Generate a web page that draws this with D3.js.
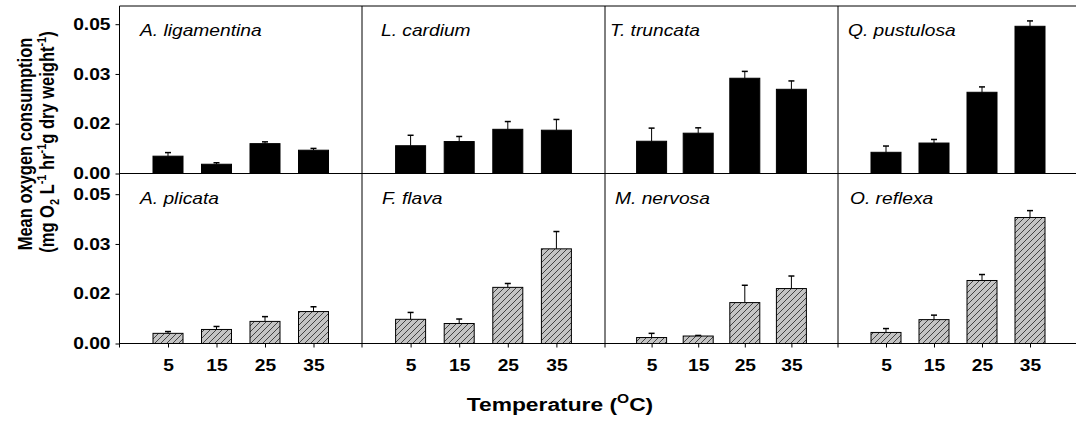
<!DOCTYPE html>
<html>
<head>
<meta charset="utf-8">
<script src="https://cdn.jsdelivr.net/npm/d3@7"></script>
<style>
  body { margin: 0; background: #fff; }
  text { font-family: Arial, "Liberation Sans", sans-serif; fill: #000; }
</style>
</head>
<body>
<div id="chart"></div>
<script>

// data
var temps = ["5", "15", "25", "35"];
var speciesTop = ["A. ligamentina", "L. cardium", "T. truncata", "Q. pustulosa"];
var speciesBottom = ["A. plicata", "F. flava", "M. nervosa", "O. reflexa"];

var meansTop = [
  [0.0058, 0.0031, 0.0100, 0.0078],
  [0.0093, 0.0107, 0.0148, 0.0145],
  [0.0108, 0.0135, 0.0319, 0.0282],
  [0.0071, 0.0102, 0.0272, 0.0493]
];
var errsTop = [
  [0.0012, 0.0005, 0.0006, 0.0006],
  [0.0035, 0.0017, 0.0026, 0.0036],
  [0.0044, 0.0018, 0.0023, 0.0028],
  [0.0021, 0.0012, 0.0018, 0.0018]
];
var meansBottom = [
  [0.0034, 0.0047, 0.0074, 0.0107],
  [0.0081, 0.0067, 0.0188, 0.0317],
  [0.0020, 0.0025, 0.0137, 0.0184],
  [0.0037, 0.0080, 0.0211, 0.0422]
];
var errsBottom = [
  [0.0006, 0.0010, 0.0016, 0.0016],
  [0.0023, 0.0015, 0.0013, 0.0058],
  [0.0014, 0.0002, 0.0058, 0.0042],
  [0.0013, 0.0015, 0.0020, 0.0023]
];
var yTicks = [0, 0.05 / 3, 0.1 / 3, 0.05];

// layout
var width = 1076, height = 424;
var colEdges = [119.5, 362, 605, 838, 1078];
var rows = [
  { top: 6, zero: 173.5, names: speciesTop, means: meansTop, errs: errsTop, fill: "#000", labelDx: [20.5, 19, 5, 10] },
  { top: 173.5, zero: 343.5, names: speciesBottom, means: meansBottom, errs: errsBottom, fill: "url(#hatch)", labelDx: [20.5, 20, 10, 12] }
];
var stretch = "scale(1.2,1)";

var svg = d3.select("#chart").append("svg")
  .attr("width", width)
  .attr("height", height);

var defs = svg.append("defs");
var pat = defs.append("pattern")
  .attr("id", "hatch")
  .attr("patternUnits", "userSpaceOnUse")
  .attr("width", 6)
  .attr("height", 6);
pat.append("rect").attr("width", 6).attr("height", 6).attr("fill", "#c4c4c4");
pat.append("path")
  .attr("d", "M-1,1 l2,-2 M0,6 l6,-6 M5,7 l2,-2")
  .attr("stroke", "#333")
  .attr("stroke-width", 0.9);

rows.forEach(function(row, r) {
  var yScale = d3.scaleLinear().domain([0, 0.05]).range([row.zero, row.zero - 149.3]);

  for (var c = 0; c < 4; c++) {
    var xScale = d3.scaleLinear().domain([0, 5]).range([colEdges[c], colEdges[c + 1]]);
    var bw = 30;
    var g = svg.append("g");

    var pts = temps.map(function(t, i) {
      return { i: i + 1, m: row.means[c][i], e: row.errs[c][i] };
    });

    // error bars (upper only)
    g.selectAll("line.err")
      .data(pts)
      .enter()
      .append("line")
      .attr("x1", d => xScale(d.i))
      .attr("x2", d => xScale(d.i))
      .attr("y1", d => yScale(d.m))
      .attr("y2", d => yScale(d.m + d.e))
      .attr("stroke", "#000")
      .attr("stroke-width", 1);
    g.selectAll("line.cap")
      .data(pts)
      .enter()
      .append("line")
      .attr("x1", d => xScale(d.i) - 3)
      .attr("x2", d => xScale(d.i) + 3)
      .attr("y1", d => yScale(d.m + d.e))
      .attr("y2", d => yScale(d.m + d.e))
      .attr("stroke", "#000")
      .attr("stroke-width", 1.5);

    g.selectAll("rect")
      .data(pts)
      .enter()
      .append("rect")
      .attr("x", d => xScale(d.i) - bw / 2)
      .attr("y", d => yScale(d.m))
      .attr("width", bw)
      .attr("height", d => yScale(0) - yScale(d.m))
      .attr("fill", row.fill)
      .attr("stroke", "#000")
      .attr("stroke-width", 1);

    g.append("text")
      .attr("transform", "translate(" + (colEdges[c] + row.labelDx[c]) + "," + (row.top + 30) + ") " + stretch)
      .style("font-size", "16px")
      .style("font-style", "italic")
      .text(row.names[c]);

    // x axis ticks and labels on bottom row
    if (r === 1) {
      var axisx = d3.axisBottom(xScale)
        .tickValues([1, 2, 3, 4])
        .tickFormat(function(d) { return temps[d - 1]; })
        .tickSize(4)
        .tickPadding(12);
      var ax = svg.append("g")
        .attr("transform", "translate(0," + row.zero + ")")
        .call(axisx);
      ax.select(".domain").remove();
      ax.selectAll("text")
        .attr("transform", stretch)
        .style("font-size", "16px")
        .style("font-weight", "bold")
        .style("font-family", "Arial, 'Liberation Sans', sans-serif");
    }
  }

  // y axis on first column
  var axisy = d3.axisLeft(yScale)
    .tickValues(yTicks)
    .tickFormat(d3.format(".2f"))
    .tickSize(4)
    .tickPadding(3.5);
  var ay = svg.append("g")
    .attr("transform", "translate(" + colEdges[0] + ",0)")
    .call(axisy);
  ay.select(".domain").remove();
  ay.selectAll("text")
    .attr("transform", stretch)
    .style("font-size", "16px")
    .style("font-weight", "bold")
    .style("font-family", "Arial, 'Liberation Sans', sans-serif");
});

// frame lines
var frame = svg.append("g").attr("stroke", "#000").attr("stroke-width", 1);
[6, 173.5, 343.5].forEach(function(y) {
  frame.append("line").attr("x1", colEdges[0]).attr("x2", width).attr("y1", y).attr("y2", y);
});
colEdges.slice(0, 4).forEach(function(x) {
  frame.append("line").attr("x1", x).attr("x2", x).attr("y1", 6).attr("y2", 347.5);
});

// y title
var yt1 = svg.append("text")
  .attr("transform", "translate(32,144) " + stretch + " rotate(-90)")
  .attr("text-anchor", "middle")
  .style("font-size", "16.5px")
  .style("font-weight", "bold")
  .text("Mean oxygen consumption");

var yt2 = svg.append("text")
  .attr("transform", "translate(54,142) " + stretch + " rotate(-90)")
  .attr("text-anchor", "middle")
  .style("font-size", "16.5px")
  .style("font-weight", "bold");
yt2.append("tspan").text("(mg O");
yt2.append("tspan").attr("dy", 4).style("font-size", "11px").text("2");
yt2.append("tspan").attr("dy", -4).text(" L");
yt2.append("tspan").attr("dy", -7).style("font-size", "11px").text("-1");
yt2.append("tspan").attr("dy", 7).text(" hr");
yt2.append("tspan").attr("dy", -7).style("font-size", "11px").text("-1");
yt2.append("tspan").attr("dy", 7).text("g dry weight");
yt2.append("tspan").attr("dy", -7).style("font-size", "11px").text("-1");
yt2.append("tspan").attr("dy", 7).text(")");

// x title
var xt = svg.append("text")
  .attr("transform", "translate(560,411) " + stretch)
  .attr("text-anchor", "middle")
  .style("font-size", "19px")
  .style("font-weight", "bold");
xt.append("tspan").text("Temperature (");
xt.append("tspan").attr("dy", -8).style("font-size", "13px").text("O");
xt.append("tspan").attr("dy", 8).text("C)");

</script>
</body>
</html>
